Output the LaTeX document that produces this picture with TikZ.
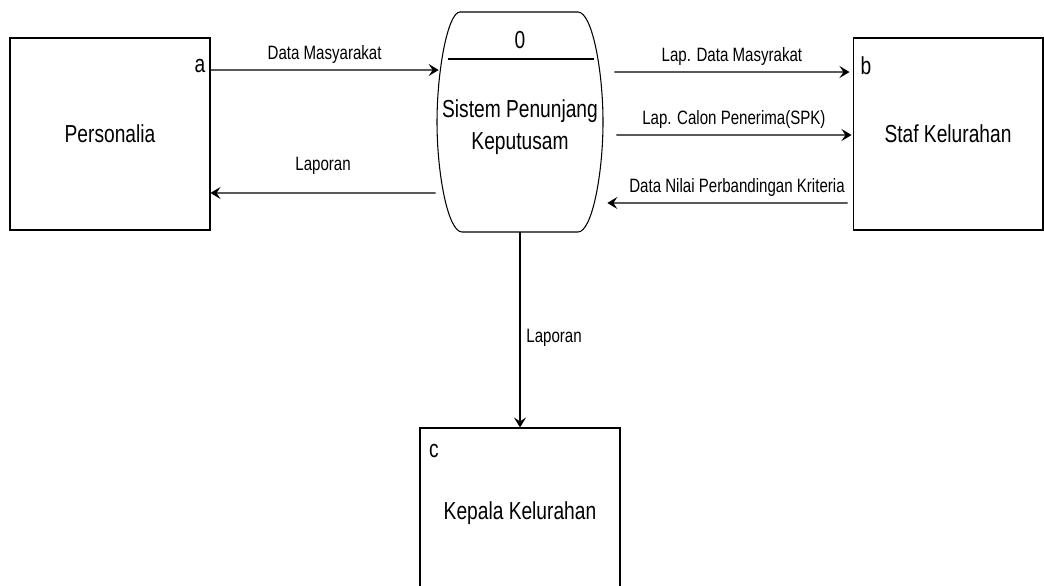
\documentclass[tikz,border=0pt]{standalone}
\usepackage{fontspec}
\setmainfont{Liberation Sans}[FakeStretch=0.78]
\usetikzlibrary{positioning}
\usetikzlibrary{arrows.meta}

\begin{document}
\begin{tikzpicture}[x=0.02cm,y=-0.02cm,>={Stealth[length=2mm,width=2.4mm,inset=0.8mm]}]
\tikzset{
  entity/.style={rectangle,draw=black,semithick,minimum width=4cm,minimum height=3.84cm,font=\fontsize{14}{17}\selectfont},
  tag/.style={text=black,font=\fontsize{14}{17}\selectfont,inner sep=0pt},
  process/.style={rectangle,minimum width=3.32cm,minimum height=4.4cm,inner sep=0pt},
  ptext/.style={text centered,align=center,font=\fontsize{14}{18.5}\selectfont},
  flow/.style={->,semithick,draw=black,font=\fontsize{11}{13}\selectfont},
}
\useasboundingbox (0,0) rectangle (1044,585);
\node[entity] (pers) at (110,134) {Personalia};
\node[entity,minimum width=3.8cm] (staf) at (948,134) {Staf Kelurahan};
\node[entity,minimum height=3.4cm] (kep) at (520,513) {Kepala Kelurahan};
\node[tag] (taga) at (200,66) {a};
\node[tag] (tagb) at (866,66) {b};
\node[tag] (tagc) at (434,451) {c};
%
\node[process] (proc) at (520,122) {};
\draw[semithick,shift={(proc.center)}] (-60,-110) -- (58,-110)
  .. controls (72,-110) and (83,-52) .. (83,0)
  .. controls (83,52) and (72,110) .. (58,110) -- (-58,110)
  .. controls (-72,110) and (-83,52) .. (-83,0)
  .. controls (-83,-52) and (-72,-110) .. (-60,-110) -- cycle;
\draw[semithick] ([xshift=-1.44cm,yshift=1.26cm]proc.center) -- ([xshift=1.48cm,yshift=1.26cm]proc.center);
\node[ptext] (pnum) at (520,40) {0};
\node[ptext] (pname) at (520,127) {Sistem Penunjang\\Keputusam};
%
\path[flow] ([yshift=1.28cm]pers.east) -- node[above] {Data Masyarakat} ([xshift=0.04cm,yshift=1.04cm]proc.west);
\path[flow] ([xshift=-0.02cm,yshift=-1.42cm]proc.west) -- node[above=0.24cm] {Laporan} ([yshift=-1.18cm]pers.east);
\path[flow] ([xshift=0.22cm,yshift=1cm]proc.east) -- node[above] {Lap. Data Masyrakat} ([xshift=-0.06cm,yshift=1.24cm]staf.west);
\path[flow] ([xshift=0.26cm,yshift=-0.26cm]proc.east) -- node[above] {Lap. Calon Penerima(SPK)} ([xshift=-0.02cm,yshift=-0.02cm]staf.west);
\path[flow] ([xshift=-0.1cm,yshift=-1.38cm]staf.west) -- node[above,pos=0.46] {Data Nilai Perbandingan Kriteria} ([xshift=0.08cm,yshift=-1.62cm]proc.east);
\path[flow] (proc.south) -- node[right,pos=0.54] {Laporan} (kep.north);
\end{tikzpicture}
\end{document}
